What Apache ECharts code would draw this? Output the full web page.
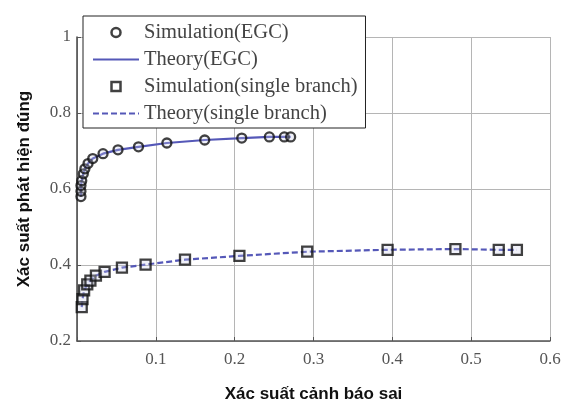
<!DOCTYPE html>
<html lang="vi">
<head>
    <meta charset="UTF-8">
    <title>ROC EGC</title>
    <style>
        * { padding: 0; margin: 0; }
        #chart { width: 567px; height: 408px; }
    </style>
</head>
<body>
    <div id="chart"></div>
    <script src="https://cdn.jsdelivr.net/npm/echarts@6/dist/echarts.min.js"></script>
    <script>
        // du lieu doc tu hinh: [xac suat canh bao sai, xac suat phat hien dung]
        const simEGC = [
            [0.005, 0.58], [0.005, 0.594], [0.005, 0.609], [0.006, 0.622], [0.008, 0.64],
            [0.010, 0.653], [0.014, 0.667], [0.020, 0.680], [0.033, 0.693], [0.052, 0.703],
            [0.078, 0.711], [0.114, 0.721], [0.162, 0.729], [0.209, 0.734], [0.244, 0.737],
            [0.263, 0.737], [0.271, 0.737]
        ];
        const theoryEGC = [
            [0.005, 0.58], [0.005, 0.594], [0.005, 0.609], [0.006, 0.622], [0.008, 0.64],
            [0.010, 0.653], [0.014, 0.667], [0.020, 0.680], [0.033, 0.693], [0.052, 0.703],
            [0.078, 0.711], [0.114, 0.721], [0.162, 0.729], [0.209, 0.734], [0.244, 0.737],
            [0.263, 0.737], [0.271, 0.737]
        ];
        const simSingle = [
            [0.006, 0.289], [0.007, 0.31], [0.009, 0.333], [0.013, 0.349], [0.017, 0.359],
            [0.024, 0.372], [0.035, 0.382], [0.057, 0.393], [0.087, 0.401], [0.137, 0.414],
            [0.206, 0.424], [0.292, 0.435], [0.394, 0.440], [0.480, 0.442], [0.535, 0.440],
            [0.558, 0.440]
        ];
        const theorySingle = [
            [0.006, 0.289], [0.007, 0.31], [0.009, 0.333], [0.013, 0.349], [0.017, 0.359],
            [0.024, 0.372], [0.035, 0.382], [0.057, 0.393], [0.087, 0.401], [0.137, 0.414],
            [0.206, 0.424], [0.292, 0.435], [0.394, 0.440], [0.480, 0.442], [0.535, 0.440],
            [0.558, 0.440]
        ];
        const names = ['Simulation(EGC)', 'Theory(EGC)', 'Simulation(single branch)', 'Theory(single branch)'];

        const lineColor = '#5558b8';
        const tickFont = { color: '#555', fontFamily: 'Liberation Serif', fontSize: 17 };
        const squareIcon = 'path://M0,0H10V10H0Z';
        const markStyle = { color: 'rgba(200,205,235,0.35)', borderColor: '#111', borderWidth: 2.3 };

        let myChart = echarts.init(document.getElementById('chart'));
        let option = {
            backgroundColor: '#fff',
            animation: false,
            grid: { left: 77, right: 17, top: 37, bottom: 64 },
            legend: {
                data: [
                    { name: names[0], icon: 'circle', itemStyle: { color: '#fff', borderColor: '#111', borderWidth: 2.5 } },
                    { name: names[1], itemStyle: { opacity: 0 } },
                    { name: names[2], icon: squareIcon, itemStyle: { color: '#fff', borderColor: '#111', borderWidth: 2.5 } },
                    { name: names[3], itemStyle: { opacity: 0 } }
                ],
                orient: 'vertical',
                left: 83,
                top: 16,
                padding: [6, 8, 4, 9],
                backgroundColor: '#fff',
                borderColor: '#222',
                borderWidth: 1,
                itemWidth: 46,
                itemHeight: 9,
                itemGap: 6,
                symbolKeepAspect: true,
                textStyle: { color: '#444', fontFamily: 'Liberation Serif', fontSize: 20.5 }
            },
            xAxis: {
                type: 'value',
                min: 0, max: 0.6, interval: 0.1,
                name: 'Xác suất cảnh báo sai',
                nameLocation: 'middle',
                nameGap: 45,
                nameTextStyle: { color: '#111', fontFamily: 'Liberation Sans', fontSize: 17, fontWeight: 'bold' },
                axisLine: { lineStyle: { color: '#555', width: 1.5 } },
                axisTick: { inside: true, length: 4, lineStyle: { color: '#555' } },
                axisLabel: Object.assign({ margin: 10, formatter: v => v === 0 ? '' : v }, tickFont),
                splitLine: { show: true, lineStyle: { color: '#b5b5b5' } }
            },
            yAxis: {
                type: 'value',
                min: 0.2, max: 1, interval: 0.2,
                name: 'Xác suất phát hiện đúng',
                nameLocation: 'middle',
                nameGap: 44,
                nameTextStyle: { color: '#111', fontFamily: 'Liberation Sans', fontSize: 17, fontWeight: 'bold' },
                axisLine: { show: true, lineStyle: { color: '#444', width: 1.5 } },
                axisTick: { inside: true, length: 4, lineStyle: { color: '#555' } },
                axisLabel: Object.assign({ margin: 6 }, tickFont),
                splitLine: { show: true, lineStyle: { color: '#b5b5b5' } }
            },
            series: [
                {
                    name: names[0], type: 'scatter', z: 4,
                    symbol: 'circle', symbolSize: 9,
                    itemStyle: markStyle,
                    data: simEGC
                },
                {
                    name: names[1], type: 'line', z: 3,
                    symbol: 'none',
                    lineStyle: { color: lineColor, width: 2.2 },
                    itemStyle: { color: lineColor },
                    data: theoryEGC
                },
                {
                    name: names[2], type: 'scatter', z: 4,
                    symbol: 'rect', symbolSize: 10,
                    itemStyle: markStyle,
                    data: simSingle
                },
                {
                    name: names[3], type: 'line', z: 3,
                    symbol: 'none',
                    lineStyle: { color: lineColor, width: 2.2, type: [6, 3] },
                    itemStyle: { color: lineColor },
                    data: theorySingle
                }
            ]
        };
        myChart.setOption(option);
    </script>
</body>
</html>
